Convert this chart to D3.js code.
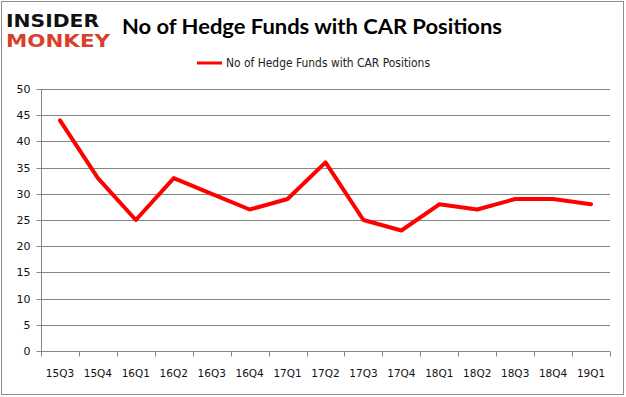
<!DOCTYPE html>
<html>
<head>
<meta charset="utf-8">
<script src="https://cdn.jsdelivr.net/npm/d3@7"></script>
<style>
  body { margin: 0; background: #fff; }
  svg { display: block; }
</style>
</head>
<body>
<svg id="chart"></svg>
<script>
'use strict';

const WIDTH = 626;
const HEIGHT = 397;

const quarters = ['15Q3', '15Q4', '16Q1', '16Q2', '16Q3', '16Q4', '17Q1', '17Q2',
    '17Q3', '17Q4', '18Q1', '18Q2', '18Q3', '18Q4', '19Q1'];
const funds = [44, 33, 25, 33, 30, 27, 29, 36, 25, 23, 28, 27, 29, 29, 28];
const yTicks = [0, 5, 10, 15, 20, 25, 30, 35, 40, 45, 50];

const TITLE = 'No of Hedge Funds with CAR Positions';
const LINE_COLOR = '#ff0000';
const GRID_COLOR = '#868686';

const plot = {left: 41, right: 610, top: 89, bottom: 351};

const svg = d3.select('#chart').attr('width', WIDTH).attr('height', HEIGHT);

// outer frame
svg.append('rect')
    .attr('x', 1.5).attr('y', 1.5)
    .attr('width', WIDTH - 4).attr('height', HEIGHT - 4)
    .attr('fill', '#fff')
    .attr('stroke', '#8c8c8c')
    .attr('stroke-width', 1);

// logo
let logo = svg.append('g').attr('font-family', 'DejaVu Sans').attr('font-weight', 'bold');
logo.append('text')
    .attr('x', 6).attr('y', 27)
    .attr('font-size', 17)
    .attr('textLength', 93).attr('lengthAdjust', 'spacingAndGlyphs')
    .attr('fill', '#111')
    .text('INSIDER');
logo.append('text')
    .attr('x', 6).attr('y', 47)
    .attr('font-size', 17)
    .attr('textLength', 104).attr('lengthAdjust', 'spacingAndGlyphs')
    .attr('fill', '#d9402b')
    .text('MONKEY');

// title
svg.append('text')
    .attr('x', 122).attr('y', 34)
    .attr('font-family', 'Lato, "Open Sans", sans-serif')
    .attr('font-weight', 'bold')
    .attr('font-size', 21)
    .attr('textLength', 380).attr('lengthAdjust', 'spacingAndGlyphs')
    .attr('fill', '#000')
    .text(TITLE);

// legend
svg.append('line')
    .attr('x1', 197).attr('x2', 222)
    .attr('y1', 63).attr('y2', 63)
    .attr('stroke', LINE_COLOR).attr('stroke-width', 3);
svg.append('text')
    .attr('x', 226).attr('y', 67)
    .attr('font-family', 'DejaVu Sans, sans-serif')
    .attr('font-size', 11.5)
    .attr('textLength', 204).attr('lengthAdjust', 'spacingAndGlyphs')
    .attr('fill', '#222')
    .text(TITLE);

const x = d3.scaleBand()
    .domain(quarters)
    .range([plot.left, plot.right]);

const y = d3.scaleLinear()
    .domain([0, 50])
    .range([plot.bottom, plot.top]);

// horizontal grid
svg.append('g')
    .selectAll('line')
    .data(yTicks.filter(function(d) { return d > 0; }))
    .enter()
    .append('line')
    .attr('x1', plot.left).attr('x2', plot.right)
    .attr('y1', function(d) { return Math.round(y(d)) + 0.5; })
    .attr('y2', function(d) { return Math.round(y(d)) + 0.5; })
    .attr('stroke', GRID_COLOR)
    .attr('stroke-width', 1);

// y axis
let yAxis = svg.append('g')
    .attr('transform', 'translate(' + (plot.left + 0.5) + ',0.5)')
    .call(d3.axisLeft(y).tickValues(yTicks).tickSize(5).tickPadding(6));
yAxis.select('.domain').attr('stroke', GRID_COLOR).attr('d', 'M0,' + y(50) + 'V' + y(0));
yAxis.selectAll('.tick line').attr('stroke', GRID_COLOR);
yAxis.selectAll('.tick').attr('transform', function(d) {
    return 'translate(0,' + Math.round(y(d)) + ')';
});
yAxis.selectAll('.tick text')
    .attr('font-family', 'DejaVu Sans, sans-serif')
    .attr('font-size', 11)
    .attr('fill', '#111');

// x axis
let xAxis = svg.append('g')
    .attr('transform', 'translate(0,' + (Math.round(y(0)) + 0.5) + ')')
    .call(d3.axisBottom(x).tickSize(0).tickPadding(18));
xAxis.select('.domain').attr('stroke', GRID_COLOR).attr('d', 'M' + plot.left + ',0H' + plot.right);
xAxis.selectAll('.tick text')
    .attr('font-family', 'DejaVu Sans, sans-serif')
    .attr('font-size', 10.5)
    .attr('fill', '#111');

// tick marks on band edges
xAxis.append('g')
    .selectAll('line')
    .data(quarters.concat(['end']))
    .enter()
    .append('line')
    .attr('x1', function(d, i) { return Math.round(plot.left + i * x.step()) + 0.5; })
    .attr('x2', function(d, i) { return Math.round(plot.left + i * x.step()) + 0.5; })
    .attr('y1', 0).attr('y2', 5)
    .attr('stroke', GRID_COLOR);

// series line
const line = d3.line()
    .x(function(d, i) { return x(quarters[i]) + x.bandwidth() / 2; })
    .y(function(d) { return y(d); });

svg.append('path')
    .datum(funds)
    .attr('d', line)
    .attr('fill', 'none')
    .attr('stroke', LINE_COLOR)
    .attr('stroke-width', 4)
    .attr('stroke-linejoin', 'round')
    .attr('stroke-linecap', 'round');
</script>
</body>
</html>
